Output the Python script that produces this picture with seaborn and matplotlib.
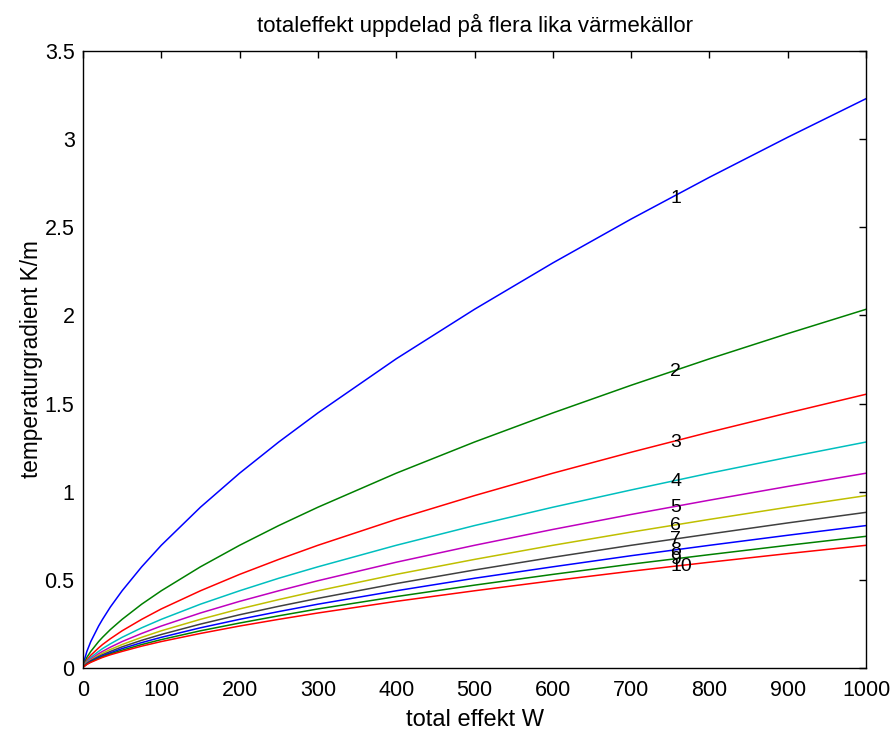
import numpy as np
import pandas as pd
import matplotlib
matplotlib.use("Agg")
import matplotlib.pyplot as plt
from matplotlib.ticker import FuncFormatter
import seaborn as sns

# ── Data ──────────────────────────────────────────────────────────────────────
effekt = [1, 5, 10, 20, 25, 35, 50, 75, 100, 150, 200, 250, 300,
          400, 500, 600, 700, 800, 900, 1000]

# one curve per number of heat sources (1..10)
k1  = [0.032, 0.094, 0.150, 0.238, 0.276, 0.346, 0.438, 0.574, 0.696, 0.912, 1.105, 1.282, 1.447,
       1.754, 2.035, 2.298, 2.547, 2.784, 3.011, 3.230]
k2  = [0.020, 0.060, 0.094, 0.150, 0.174, 0.218, 0.276, 0.362, 0.438, 0.574, 0.696, 0.808, 0.912,
       1.105, 1.282, 1.447, 1.604, 1.754, 1.897, 2.035]
k3  = [0.016, 0.045, 0.072, 0.114, 0.133, 0.166, 0.211, 0.276, 0.335, 0.438, 0.531, 0.616, 0.696,
       0.843, 0.978, 1.105, 1.224, 1.338, 1.447, 1.553]
k4  = [0.013, 0.038, 0.060, 0.094, 0.110, 0.137, 0.174, 0.228, 0.276, 0.362, 0.438, 0.509, 0.574,
       0.696, 0.808, 0.912, 1.010, 1.105, 1.195, 1.282]
k5  = [0.011, 0.032, 0.051, 0.081, 0.094, 0.118, 0.150, 0.196, 0.238, 0.312, 0.378, 0.438, 0.495,
       0.600, 0.696, 0.786, 0.871, 0.952, 1.030, 1.105]
k6  = [0.010, 0.029, 0.045, 0.072, 0.084, 0.105, 0.133, 0.174, 0.211, 0.276, 0.335, 0.388, 0.438,
       0.531, 0.616, 0.696, 0.771, 0.843, 0.912, 0.978]
k7  = [0.009, 0.026, 0.041, 0.065, 0.075, 0.094, 0.120, 0.157, 0.190, 0.249, 0.302, 0.350, 0.395,
       0.479, 0.556, 0.628, 0.696, 0.760, 0.823, 0.883]
k8  = [0.008, 0.024, 0.038, 0.060, 0.069, 0.086, 0.110, 0.144, 0.174, 0.228, 0.276, 0.320, 0.362,
       0.438, 0.509, 0.574, 0.637, 0.696, 0.753, 0.808]
k9  = [0.008, 0.022, 0.035, 0.055, 0.064, 0.080, 0.101, 0.133, 0.161, 0.211, 0.255, 0.296, 0.335,
       0.405, 0.470, 0.531, 0.589, 0.643, 0.696, 0.747]
k10 = [0.007, 0.020, 0.032, 0.051, 0.060, 0.075, 0.094, 0.124, 0.150, 0.196, 0.238, 0.276, 0.312,
       0.378, 0.438, 0.495, 0.549, 0.600, 0.649, 0.696]

kurvor = [k1, k2, k3, k4, k5, k6, k7, k8, k9, k10]
etiketter = ["1", "2", "3", "4", "5", "6", "7", "8", "9", "10"]

# curve labels sit on the curves at 750 W
etikett_x = 750
etikett_y = [2.666, 1.680, 1.282, 1.058, 0.912, 0.808, 0.729, 0.667, 0.616, 0.574]

# classic MATLAB colour order b g r c m y k, then repeats
farger = ["#0000ff", "#008000", "#ff0000", "#00bfbf", "#bf00bf",
          "#bfbf00", "#404040", "#0000ff", "#008000", "#ff0000"]

x_ticks = [0, 100, 200, 300, 400, 500, 600, 700, 800, 900, 1000]
y_ticks = [0, 0.5, 1, 1.5, 2, 2.5, 3, 3.5]

# ── Long-form table for seaborn ───────────────────────────────────────────────
df = pd.DataFrame({
    "effekt": np.tile(effekt, len(kurvor)),
    "gradient": np.concatenate(kurvor),
    "kallor": np.repeat(etiketter, len(effekt)),
})

sns.set_theme(style="white")
plt.rcParams["font.family"] = ["Liberation Sans Narrow", "Liberation Sans", "DejaVu Sans"]

fig = plt.figure(figsize=(8.92, 7.31), dpi=100)
ax = fig.add_axes([0.093, 0.0862, 0.878, 0.844])

sns.lineplot(data=df, x="effekt", y="gradient", hue="kallor",
             hue_order=etiketter, palette=farger, linewidth=1.1,
             legend=False, ax=ax, estimator=None, sort=False)

for lab, ly in zip(etiketter, etikett_y):
    ax.text(etikett_x, ly, lab, ha="left", va="center", fontsize=14, color="black")

ax.set_xlim(0, 1000)
ax.set_ylim(0, 3.5)
ax.set_xticks(x_ticks)
ax.set_yticks(y_ticks)
ax.yaxis.set_major_formatter(FuncFormatter(lambda v, p: f"{v:g}"))
ax.tick_params(direction="in", length=5, width=1, top=True, right=True,
               labelsize=15.5, colors="black")
ax.tick_params(axis="x", pad=8.5)
ax.tick_params(axis="y", pad=6)
for sp in ax.spines.values():
    sp.set_visible(True)
    sp.set_color("black")
    sp.set_linewidth(1.0)

ax.set_xlabel("total effekt W", fontsize=17, color="black", labelpad=6)
ax.set_ylabel("temperaturgradient K/m", fontsize=16.3, color="black", labelpad=1)
ax.set_title("totaleffekt uppdelad på flera lika värmekällor", fontsize=16,
             color="black", pad=14)

fig.savefig("out.png", dpi=100, facecolor="white")
